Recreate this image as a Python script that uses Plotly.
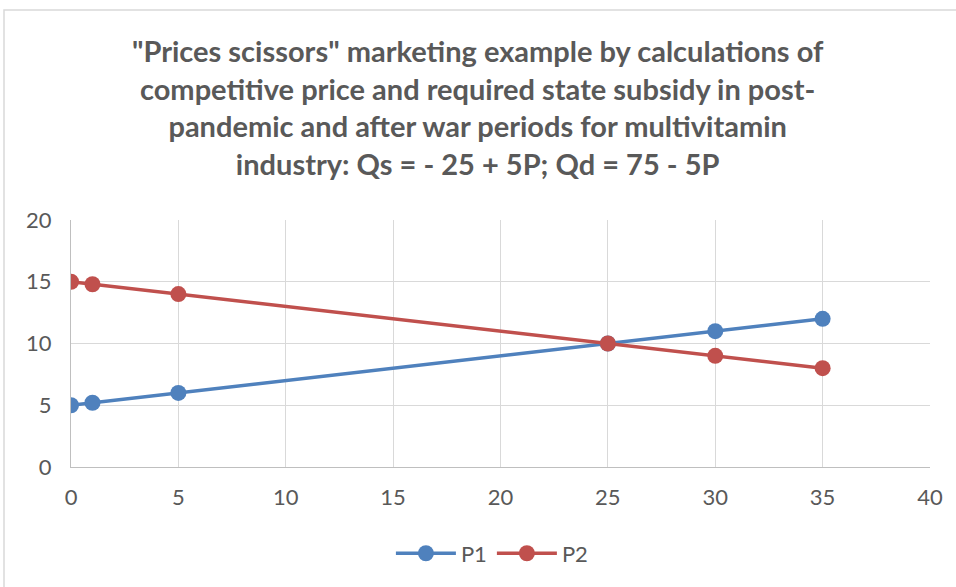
import plotly.graph_objects as go

# quantity points and prices
q = [0, 1, 5, 25, 30, 35]
p1 = [5, 5.2, 6, 10, 11, 12]
p2 = [15, 14.8, 14, 10, 9, 8]

title_text = ('"Prices scissors" marketing example by calculations of<br>'
              'competitive price and required state subsidy in post-<br>'
              'pandemic and after war periods for multivitamin<br>'
              'industry: Qs = - 25 + 5P; Qd = 75 - 5P')

W, H = 956, 587
L, R, T, B = 71, 26, 220, 120
pw, ph = W - L - R, H - T - B

fig = go.Figure()
fig.add_trace(go.Scatter(x=q, y=p1, name='P1', mode='lines+markers',
                         line=dict(color='#4f81bd', width=3.5),
                         marker=dict(size=16, color='#4f81bd')))
fig.add_trace(go.Scatter(x=q, y=p2, name='P2', mode='lines+markers',
                         line=dict(color='#c0504d', width=3.5),
                         marker=dict(size=16, color='#c0504d')))

# outer chart border
fig.add_shape(type='rect', xref='paper', yref='paper',
              x0=(4 - L) / pw, x1=(W + 5 - L) / pw,
              y0=-(H + 5 - T - ph) / ph, y1=(H - B - 10) / ph,
              line=dict(color='#d9d9d9', width=1.5), layer='below')

# title as an annotation so the block sits where the reference has it
fig.add_annotation(text=title_text, xref='paper', yref='paper',
                   x=(478 - L) / pw, y=(H - B - 107) / ph,
                   xanchor='center', yanchor='middle', showarrow=False,
                   font=dict(size=29, color='#595959', family='Lato, sans-serif', weight='bold'))

tick_font = dict(family='Lato, sans-serif', size=22, color='#595959')

fig.update_layout(
    width=W, height=H,
    margin=dict(l=L, r=R, t=T, b=B),
    plot_bgcolor='white', paper_bgcolor='white',
    font=dict(family='Lato, Open Sans, sans-serif', color='#595959', size=21),
    xaxis=dict(range=[0, 40], dtick=5, showgrid=True, gridcolor='#d9d9d9', gridwidth=1.2,
               zeroline=False, showline=True, linecolor='#bfbfbf', linewidth=1.2,
               ticks='', ticklabelstandoff=10, automargin=False, tickfont=tick_font),
    yaxis=dict(range=[0, 20], dtick=5, showgrid=True, gridcolor='#d9d9d9', gridwidth=1.2,
               zeroline=False, showline=True, linecolor='#bfbfbf', linewidth=1.2,
               ticks='', ticklabelstandoff=14, automargin=False, tickfont=tick_font),
    showlegend=True,
    legend=dict(orientation='h', x=0.49, xanchor='center', y=-0.35, yanchor='middle',
                font=dict(size=22, color='#595959'), itemwidth=60),
)

# page has a default 8px body margin; drop it so the figure fills the window
fig.write_html("out.html", config={'displayModeBar': False},
               post_script="document.body.style.margin='0px';")
